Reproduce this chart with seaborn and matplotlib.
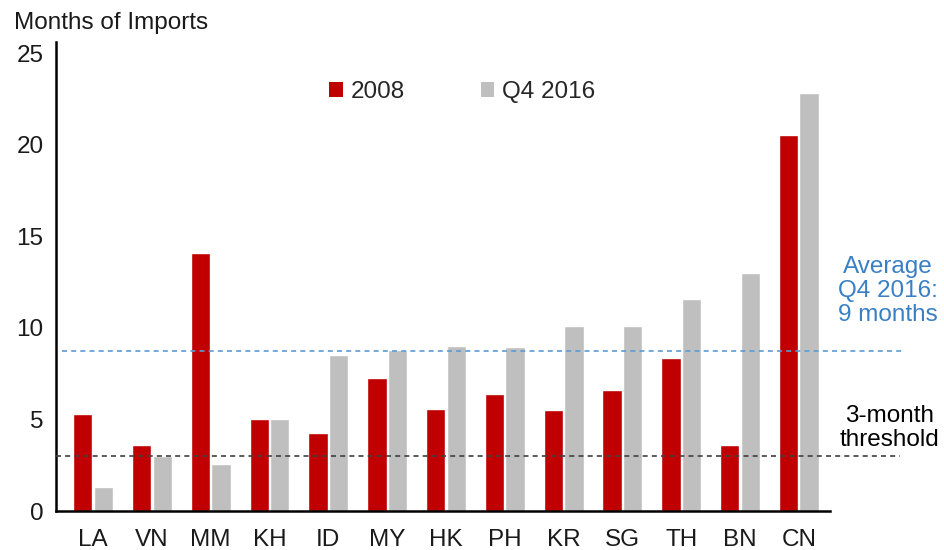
import matplotlib
matplotlib.use("Agg")
import matplotlib.pyplot as plt
import seaborn as sns
import pandas as pd
from matplotlib.patches import Patch

countries = ["LA", "VN", "MM", "KH", "ID", "MY", "HK", "PH", "KR", "SG", "TH", "BN", "CN"]
vals_2008 = [5.3, 3.6, 14.1, 5.0, 4.25, 7.25, 5.55, 6.4, 5.5, 6.6, 8.35, 3.6, 20.55]
vals_2016 = [1.3, 3.0, 2.55, 5.0, 8.5, 8.8, 9.0, 8.95, 10.1, 10.1, 11.55, 13.0, 22.8]
series = ["2008", "Q4 2016"]
avg_2016 = 8.75
threshold = 3.0
yticks = [0, 5, 10, 15, 20, 25]

RED = "#C00000"
GREY = "#BFBFBF"
BLUE_LINE = "#5B9BD5"
BLUE_TXT = "#3A7FC4"
TXT = "#1a1a1a"
FS = 17.5

df = pd.DataFrame({
    "country": countries * 2,
    "value": vals_2008 + vals_2016,
    "series": [series[0]] * len(countries) + [series[1]] * len(countries),
})

sns.set_style("white")
plt.rcParams["font.family"] = ["Liberation Sans", "DejaVu Sans"]

fig = plt.figure(figsize=(9.45, 5.5), dpi=100)
ax = fig.add_axes([0.0593, 0.0709, 0.8190, 0.8527])

sns.barplot(data=df, x="country", y="value", hue="series", order=countries,
            hue_order=series, palette=[RED, GREY], width=0.70, gap=0.06,
            saturation=1, legend=False, ax=ax, errorbar=None)

ax.set_xlim(-0.63, 12.53)
ax.set_ylim(0, 25.6)
ax.set_yticks(yticks)
ax.set_yticklabels([str(t) for t in yticks], fontsize=FS, color=TXT)
ax.tick_params(axis="x", labelsize=FS, colors=TXT, length=0, pad=13)
ax.tick_params(axis="y", length=0, pad=9)
ax.set_xlabel("")
ax.set_ylabel("")
for s in ["top", "right"]:
    ax.spines[s].set_visible(False)
for s in ["left", "bottom"]:
    ax.spines[s].set_color("black")
    ax.spines[s].set_linewidth(1.8)

ax.axhline(avg_2016, xmin=0.008, xmax=1.097, color=BLUE_LINE, linestyle=(0, (3, 2.5)),
           linewidth=1.2, clip_on=False, zorder=5)
ax.axhline(threshold, xmin=0.0, xmax=1.09, color="#404040", linestyle=(0, (3, 2.5)),
           linewidth=1.2, clip_on=False, zorder=5)

fig.text(0.94, 0.471, "Average\nQ4 2016:\n9 months", color=BLUE_TXT, fontsize=FS,
         ha="center", va="center", linespacing=1.12)
fig.text(0.941, 0.222, "3-month\nthreshold", color="black", fontsize=FS,
         ha="center", va="center", linespacing=1.12)

fig.text(0.015, 0.958, "Months of Imports", fontsize=FS, color=TXT, ha="left", va="center")

handles = [Patch(facecolor=RED, edgecolor="none"), Patch(facecolor=GREY, edgecolor="none")]
ax.legend(handles, series, loc="center", bbox_to_anchor=(0.525, 0.893), ncol=2,
          frameon=False, fontsize=FS, handlelength=0.55, handleheight=0.55,
          handletextpad=0.35, columnspacing=3.1)

fig.savefig("out.png", dpi=100)
